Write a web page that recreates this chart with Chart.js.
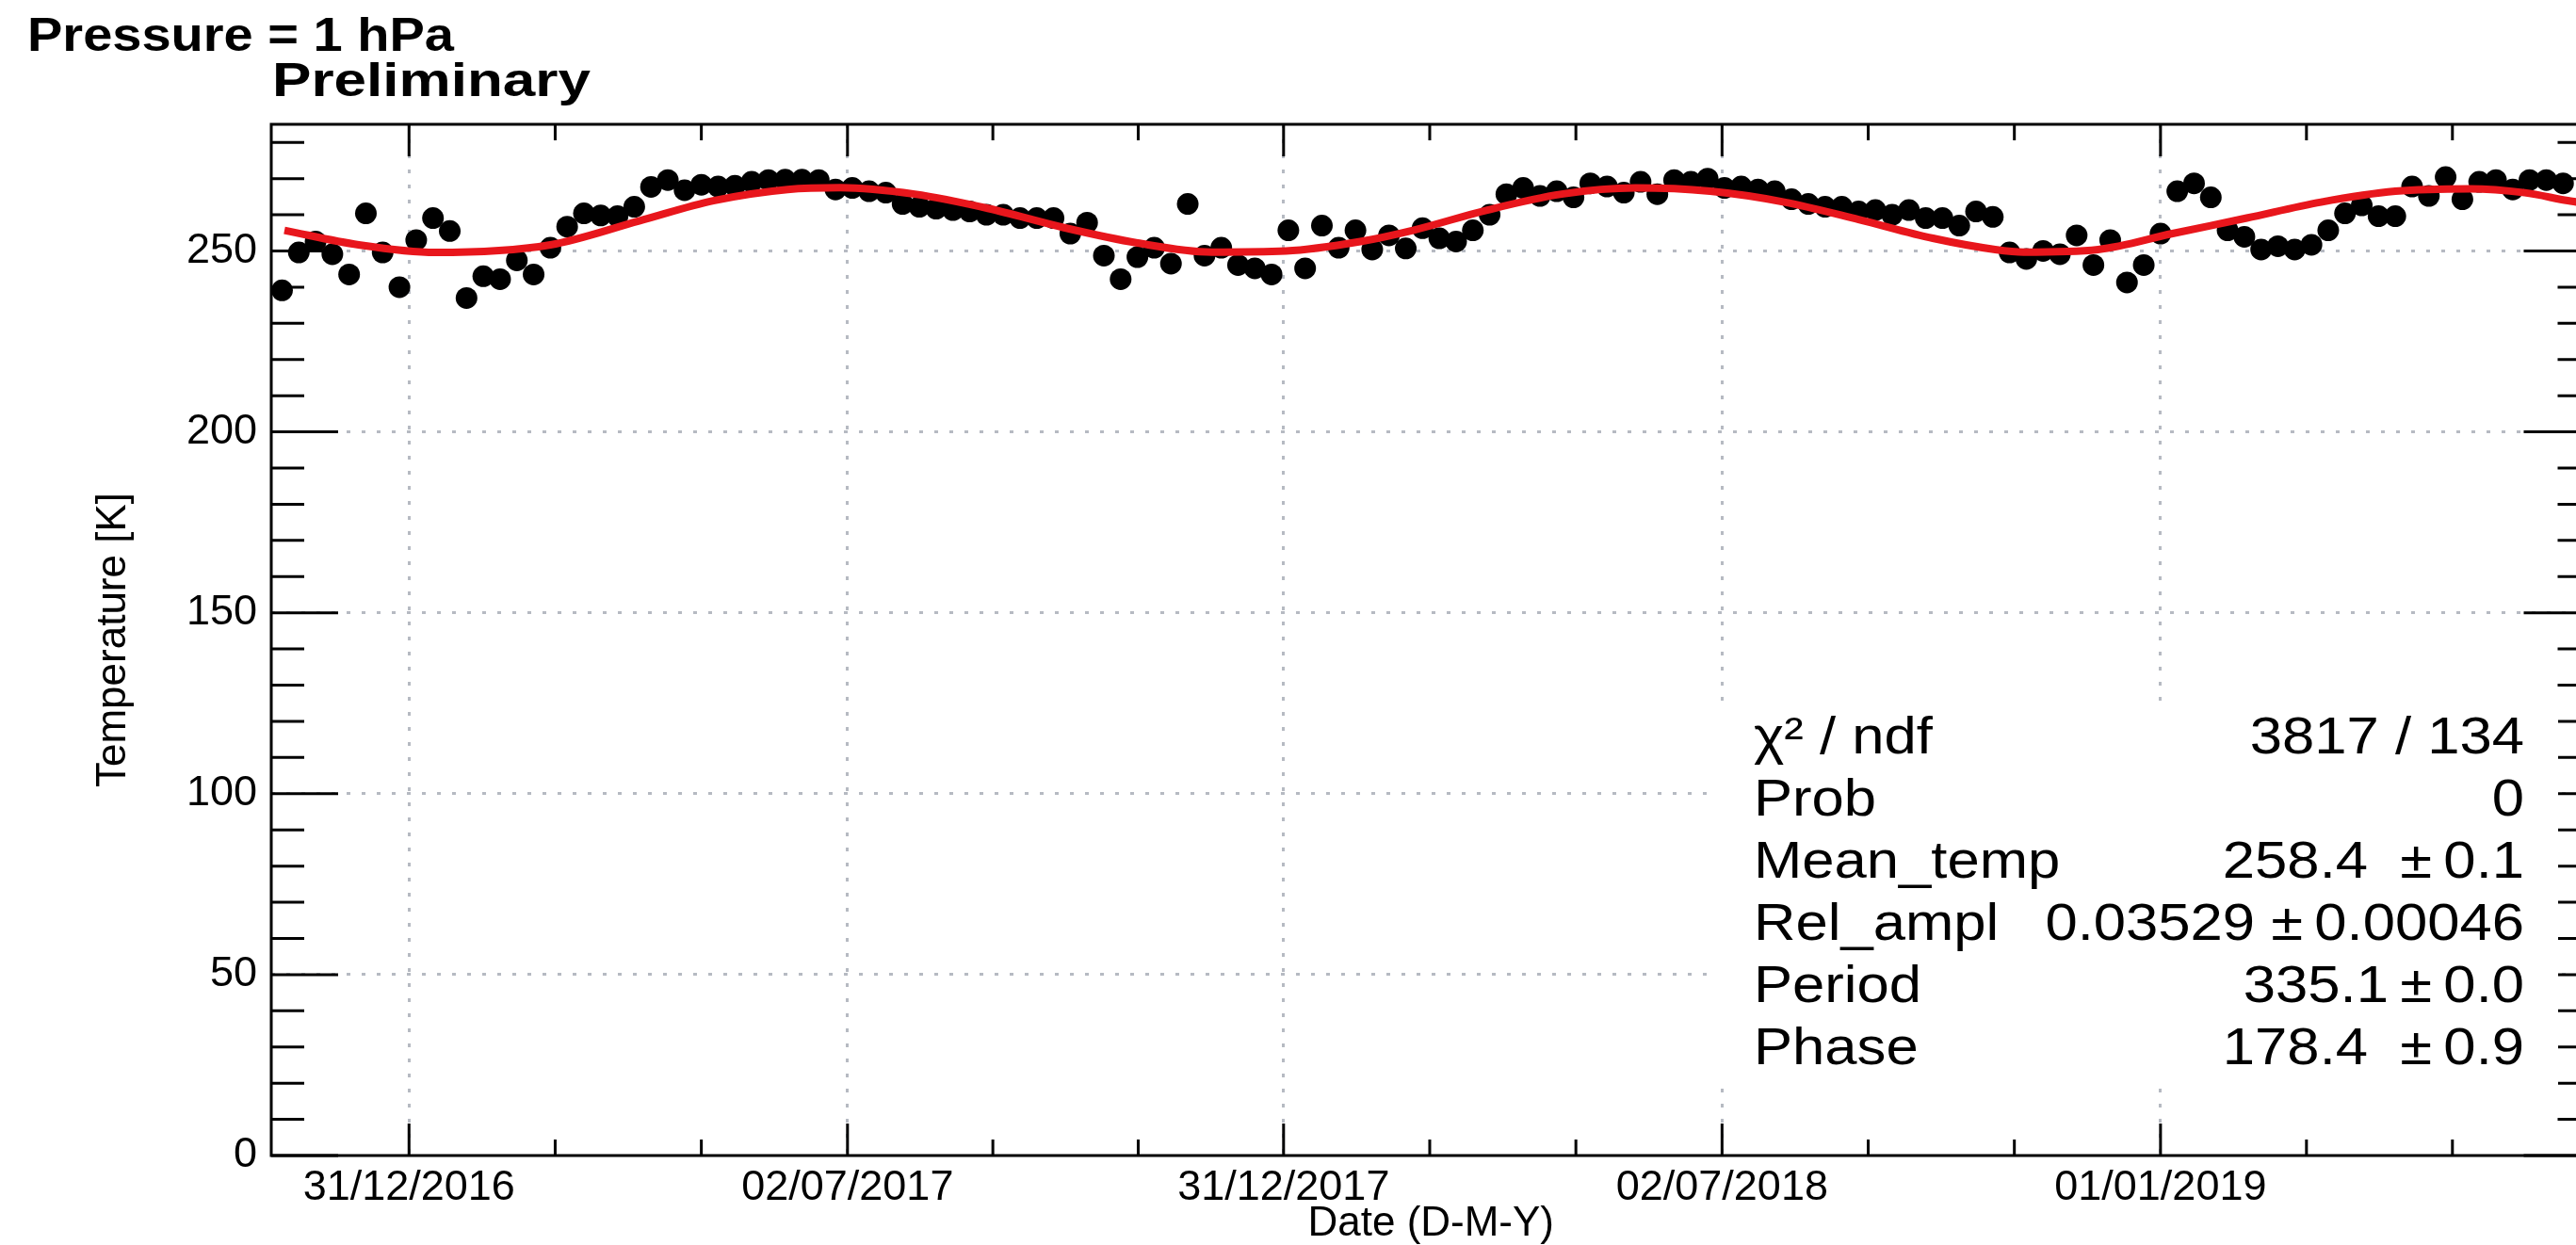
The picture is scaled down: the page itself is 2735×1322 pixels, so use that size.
<!DOCTYPE html>
<html>
<head>
<meta charset="utf-8">
<script src="https://cdn.jsdelivr.net/npm/chart.js@4.4.1/dist/chart.umd.min.js"></script>
<style>
  html, body { margin: 0; padding: 0; background: #fff; overflow: hidden; }
  #wrap { width: 2735px; height: 1322px; overflow: hidden; }
</style>
</head>
<body>
<div id="wrap"><canvas id="chart" width="2762" height="1322"></canvas></div>
<script>
// weekly mean temperature at 1 hPa, first week starts 08/11/2016
const firstWeek = '2016-11-08';
const temperature = [
  239.1, 249.6, 252.6, 249.1, 243.5, 260.4, 249.6, 240.0, 253.0, 259.1,
  255.5, 237.0, 243.0, 242.2, 247.4, 243.5, 250.9, 256.7, 260.4, 259.8,
  259.6, 262.2, 267.7, 269.6, 266.8, 268.3, 267.8, 268.0, 269.1, 269.6,
  269.7, 269.7, 269.6, 267.0, 267.4, 266.5, 266.1, 263.0, 262.2, 261.7,
  261.3, 260.9, 260.0, 260.0, 259.1, 259.1, 259.1, 254.8, 257.8, 248.7,
  242.2, 248.3, 250.9, 246.5, 263.0, 248.7, 250.9, 246.1, 245.2, 243.5,
  255.7, 245.2, 257.0, 250.9, 255.7, 250.4, 254.3, 250.7, 256.3, 253.5,
  252.6, 255.7, 260.0, 265.7, 267.4, 265.2, 266.5, 264.8, 268.7, 267.8,
  266.1, 269.1, 265.7, 269.6, 269.1, 270.0, 267.4, 267.8, 267.0, 266.5,
  264.3, 263.0, 262.2, 262.2, 260.9, 261.3, 260.0, 261.3, 259.1, 259.1,
  257.0, 260.9, 259.4, 249.6, 247.8, 250.0, 249.1, 254.3, 246.1, 253.0,
  241.3, 246.1, 254.8, 266.5, 268.7, 264.8, 255.7, 253.9, 250.4, 251.3,
  250.4, 251.7, 255.7, 260.4, 262.6, 259.6, 259.6, 267.8, 265.2, 270.4,
  264.3, 269.1, 269.6, 267.0, 269.6, 269.6, 268.7
];

// fitted curve
const fitDates = [
  '2016-11-09', '2016-12-10', '2017-01-11', '2017-02-28', '2017-04-06', '2017-05-07',
  '2017-06-07', '2017-06-29', '2017-07-30', '2017-08-30', '2017-09-30', '2017-10-31',
  '2017-12-01', '2018-01-01', '2018-02-01', '2018-02-23', '2018-03-26', '2018-04-26',
  '2018-05-27', '2018-06-27', '2018-07-28', '2018-08-28', '2018-09-28', '2018-10-24',
  '2018-11-05', '2018-12-06', '2019-01-06', '2019-02-06', '2019-03-09', '2019-04-09',
  '2019-05-10', '2019-06-02', '2019-06-20', '2019-06-29'
];
const fitValues = [
  255.7, 251.7, 249.6, 251.7, 258.3, 263.9,
  267.0, 267.5, 265.7, 261.7, 256.5, 252.2,
  249.7, 250.0, 252.6, 255.7, 261.3, 265.7,
  267.4, 266.5, 263.5, 258.7, 253.5, 250.4,
  249.7, 250.4, 254.8, 259.1, 263.5, 266.5,
  267.2, 266.1, 263.9, 263.0
];

const majorTickDates = ['2016-12-31', '2017-07-02', '2017-12-31', '2018-07-02', '2019-01-01'];
const majorTickLabels = ['31/12/2016', '02/07/2017', '31/12/2017', '02/07/2018', '01/01/2019'];
const yTickValues = [0, 10, 20, 30, 40, 50, 60, 70, 80, 90, 100, 110, 120, 130, 140,
  150, 160, 170, 180, 190, 200, 210, 220, 230, 240, 250, 260, 270, 280];

const statsRows = [
  ['\u03c7\u00b2 / ndf', '3817 / 134'],
  ['Prob', '0'],
  ['Mean_temp', '258.4  \u00b1\u20090.1'],
  ['Rel_ampl', '0.03529 \u00b1\u20090.00046'],
  ['Period', '335.1\u2009\u00b1\u20090.0'],
  ['Phase', '178.4  \u00b1\u20090.9']
];

const DAY = 86400000;
const FONT = '"Liberation Sans", Arial, sans-serif';
const gridColor = '#b6bac2';

const points = temperature.map((t, i) => ({ x: Date.parse(firstWeek) + i * 7 * DAY, y: t }));
const fitPoints = fitDates.map((d, i) => ({ x: Date.parse(d), y: fitValues[i] }));

const majorValues = majorTickDates.map(d => Date.parse(d));
const xMin = majorValues[0] - 57.5 * DAY;
const xMax = majorValues[majorValues.length - 1] + 179.5 * DAY;

// minor ticks: three divisions per major step
const step = (majorValues[majorValues.length - 1] - majorValues[0]) / (majorValues.length - 1);
let xTickValues = [];
for (let i = -1; i < majorValues.length; i++) {
  const a = i < 0 ? majorValues[0] - step : majorValues[i];
  const b = i + 1 < majorValues.length ? majorValues[i + 1] : a + step;
  xTickValues.push(a, a + (b - a) / 3, a + 2 * (b - a) / 3);
}
xTickValues = xTickValues.filter(v => v >= xMin && v <= xMax);
const isMajorX = v => majorValues.indexOf(v) >= 0;

function stretched(ctx, text, x, y, sx, align) {
  ctx.save();
  ctx.translate(x, y);
  ctx.scale(sx, 1);
  ctx.textAlign = align;
  ctx.fillText(text, 0, 0);
  ctx.restore();
}

// frame with inward ticks on all four sides, plus the two titles
const rootFrame = {
  id: 'rootFrame',
  afterDraw(chart) {
    const { ctx, chartArea: a, scales } = chart;
    ctx.save();
    ctx.strokeStyle = '#000';
    ctx.lineWidth = 3;
    ctx.beginPath();
    scales.x.ticks.forEach(t => {
      const px = scales.x.getPixelForValue(t.value);
      const len = isMajorX(t.value) ? 34 : 17;
      ctx.moveTo(px, a.bottom); ctx.lineTo(px, a.bottom - len);
      ctx.moveTo(px, a.top); ctx.lineTo(px, a.top + len);
    });
    scales.y.ticks.forEach(t => {
      const py = scales.y.getPixelForValue(t.value);
      const len = t.value % 50 === 0 ? 71 : 35;
      ctx.moveTo(a.left, py); ctx.lineTo(a.left + len, py);
      ctx.moveTo(a.right, py); ctx.lineTo(a.right - len, py);
    });
    ctx.stroke();
    ctx.strokeRect(a.left, a.top, a.right - a.left, a.bottom - a.top);

    ctx.fillStyle = '#000';
    ctx.textBaseline = 'alphabetic';
    ctx.font = 'bold 50px ' + FONT;
    let w = ctx.measureText('Pressure = 1 hPa').width;
    stretched(ctx, 'Pressure = 1 hPa', 29, 54, 453 / w, 'left');
    w = ctx.measureText('Preliminary').width;
    stretched(ctx, 'Preliminary', 289, 102, 338 / w, 'left');
    ctx.restore();
  }
};

// fit statistics box, drawn last over grid and ticks
const statsBox = {
  id: 'statsBox',
  afterDraw(chart) {
    const ctx = chart.ctx;
    ctx.save();
    ctx.fillStyle = '#fff';
    ctx.fillRect(1812, 745, 904, 407);
    ctx.fillStyle = '#000';
    ctx.font = '55px ' + FONT;
    ctx.textBaseline = 'alphabetic';
    statsRows.forEach((row, i) => {
      const y = 800 + 66 * i;
      stretched(ctx, row[0], 1862, y, 1.12, 'left');
      stretched(ctx, row[1], 2680, y, 1.12, 'right');
    });
    ctx.restore();
  }
};

new Chart(document.getElementById('chart'), {
  type: 'scatter',
  data: {
    datasets: [
      {
        type: 'line',
        label: 'fit',
        data: fitPoints,
        borderColor: '#e8161c',
        borderWidth: 8,
        pointRadius: 0,
        fill: false,
        tension: 0.4,
        cubicInterpolationMode: 'monotone',
        order: 0
      },
      {
        label: 'Temperature',
        data: points,
        backgroundColor: '#000',
        borderColor: '#000',
        borderWidth: 0,
        pointRadius: 11.5,
        order: 1
      }
    ]
  },
  options: {
    responsive: false,
    animation: false,
    devicePixelRatio: 1,
    layout: { padding: { top: 132, right: 4, left: 0, bottom: 0 } },
    plugins: { legend: { display: false }, tooltip: { enabled: false } },
    scales: {
      x: {
        type: 'linear',
        position: 'bottom',
        min: xMin,
        max: xMax,
        afterBuildTicks: s => { s.ticks = xTickValues.map(v => ({ value: v })); },
        afterFit: s => { s.height = 95; },
        ticks: {
          autoSkip: false,
          maxRotation: 0,
          padding: 8,
          color: '#000',
          font: { family: FONT, size: 45 },
          callback: v => { const i = majorValues.indexOf(v); return i >= 0 ? majorTickLabels[i] : ''; }
        },
        grid: {
          drawTicks: false,
          lineWidth: 3,
          color: c => (c.tick && isMajorX(c.tick.value)) ? gridColor : 'rgba(0,0,0,0)'
        },
        border: { display: false, dash: [4, 12] },
        title: {
          display: true,
          text: 'Date (D-M-Y)',
          color: '#000',
          font: { family: FONT, size: 44, lineHeight: 1 },
          padding: 0
        }
      },
      y: {
        min: 0,
        max: 285,
        afterBuildTicks: s => { s.ticks = yTickValues.map(v => ({ value: v })); },
        afterFit: s => { s.width = 288; },
        ticks: {
          autoSkip: false,
          padding: 15,
          color: '#000',
          font: { family: FONT, size: 45 },
          callback: v => v % 50 === 0 ? String(v) : ''
        },
        grid: {
          drawTicks: false,
          lineWidth: 3,
          color: c => (c.tick && c.tick.value % 50 === 0 && c.tick.value > 0) ? gridColor : 'rgba(0,0,0,0)'
        },
        border: { display: false, dash: [4, 12] },
        title: {
          display: true,
          text: 'Temperature [K]',
          color: '#000',
          font: { family: FONT, size: 44, lineHeight: 1.2 },
          padding: { top: 94, bottom: 0 }
        }
      }
    }
  },
  plugins: [rootFrame, statsBox]
});
</script>
</body>
</html>
